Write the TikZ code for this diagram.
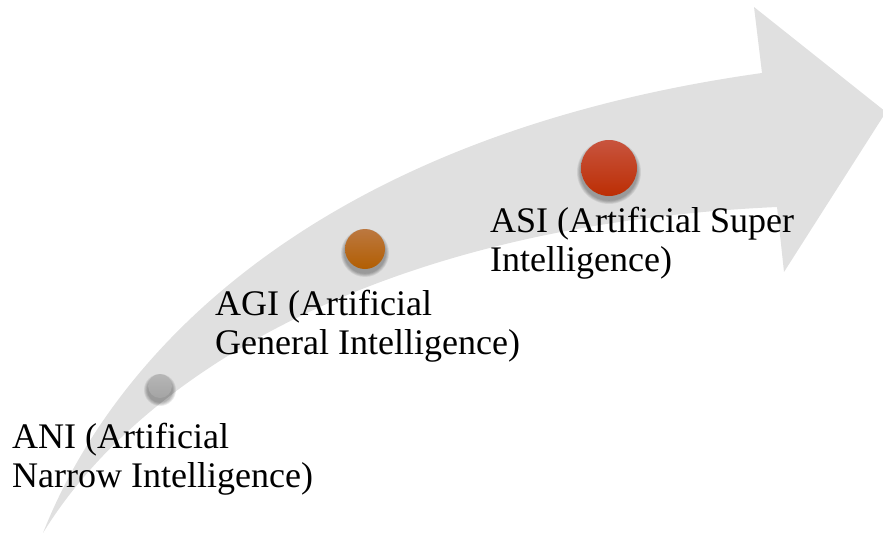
\documentclass[tikz,border=0pt]{standalone}
\usepackage{fontspec}
\setmainfont{Liberation Serif}
\begin{document}
\begin{tikzpicture}[x=1pt,y=-1pt,
  lbl/.style={anchor=base west,align=left,inner sep=0pt,font=\fontsize{36}{39}\selectfont,text=black},
  dotshadow/.style={fill=black,fill opacity=0.07,draw=none}]
\useasboundingbox (0,0) rectangle (883,535);
\definecolor{arrowgray}{RGB}{224,224,224}
\definecolor{redtop}{RGB}{200,84,62}
\definecolor{redbot}{RGB}{188,46,4}
\definecolor{oratop}{RGB}{188,120,64}
\definecolor{orabot}{RGB}{178,94,2}
\definecolor{graytop}{RGB}{182,182,182}
\definecolor{graybot}{RGB}{164,164,164}
% arrow
\fill[arrowgray] (43,533) .. controls (115,350) and (320,135) .. (762,73)
  -- (754,7) -- (886,112) -- (784,272) -- (777,207)
  .. controls (380,225) and (140,375) .. (43,533) -- cycle;
% shadows
\foreach \cx/\cy/\r in {160/386/12, 365/249/20, 609/168/28}{
  \foreach \d in {1,2,3,4,5}{
    \fill[dotshadow] (\cx,\cy+4) circle ({\r+\d*0.8});
  }
}
% dots
\shade[top color=graytop,bottom color=graybot] (160,386) circle (12);
\shade[top color=oratop,bottom color=orabot] (365,249) circle (20);
\shade[top color=redtop,bottom color=redbot] (609,168) circle (28);
\node (ani) at (160,386) {};
\node (agi) at (365,249) {};
\node (asi) at (609,168) {};
% labels (anchor = baseline of last line)
\node[lbl] (anit) at (12,487) {ANI (Artificial\\Narrow Intelligence)};
\node[lbl] (agit) at (215,354) {AGI (Artificial\\General Intelligence)};
\node[lbl] (asit) at (490,271) {ASI (Artificial Super\\Intelligence)};
\end{tikzpicture}
\end{document}
